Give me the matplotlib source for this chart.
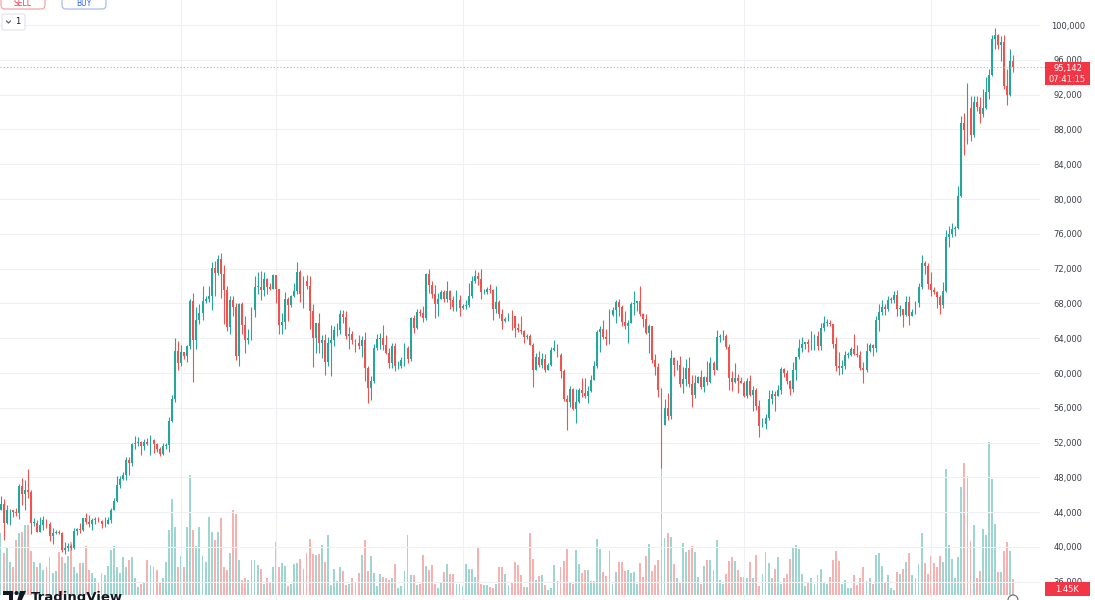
import numpy as np
import matplotlib
matplotlib.use("Agg")
import matplotlib.pyplot as plt
from matplotlib.patches import FancyBboxPatch, Rectangle, Circle, Polygon

# BTC daily candles, 1 Jan - 28 Nov 2024, prices in thousands of USD
first_open = 42.3

closes = [
    44.2, 45.0, 42.8, 44.2, 44.2, 44.0, 43.9, 47.0, 46.1, 46.6, 46.3, 42.8, 42.8, 41.7, 42.5, 43.1, 42.7, 41.3, 41.6, 41.7, 41.6, 39.6, 39.9, 40.1, 39.9, 41.8, 42.1, 42.0, 43.3, 42.9, 42.6,
    43.1, 43.2, 43.0, 42.6, 42.7, 43.1, 44.3, 45.3, 47.1, 47.8, 48.3, 50.0, 49.7, 51.8, 51.9, 52.1, 51.6, 52.1, 51.8, 52.3, 51.8, 51.3, 50.7, 51.6, 51.7, 54.5, 57.0, 62.5, 61.1,
    62.4, 62.0, 63.1, 68.3, 63.8, 66.1, 66.9, 68.3, 68.5, 68.9, 72.1, 71.5, 73.1, 71.4, 69.5, 65.3, 68.4, 67.6, 61.9, 67.9, 65.5, 63.8, 64.0, 67.2, 69.9, 69.9, 69.5, 70.8, 69.9, 69.6, 71.3,
    69.7, 65.5, 65.9, 68.5, 67.8, 68.9, 69.4, 71.6, 69.1, 70.6, 70.0, 67.1, 64.0, 65.7, 63.4, 63.8, 61.3, 63.5, 63.8, 64.9, 64.9, 66.8, 66.4, 64.3, 64.5, 63.8, 63.4, 63.1, 63.8, 60.6,
    58.3, 59.1, 62.9, 63.9, 64.0, 63.2, 62.3, 61.2, 63.1, 60.8, 60.8, 61.5, 62.9, 61.6, 66.3, 65.2, 67.0, 66.9, 66.3, 71.4, 70.1, 69.1, 67.9, 68.5, 69.3, 68.5, 69.4, 68.4, 67.6, 68.4, 67.5,
    67.7, 67.8, 68.8, 70.6, 71.1, 70.8, 69.3, 69.3, 69.6, 69.5, 67.3, 68.2, 66.8, 66.0, 66.2, 66.6, 66.5, 65.2, 64.9, 64.8, 64.1, 64.2, 63.2, 60.3, 61.8, 60.9, 61.6, 60.3, 60.9, 62.7,
    62.9, 62.1, 60.2, 57.0, 56.7, 58.2, 55.9, 56.7, 58.0, 57.7, 57.3, 57.9, 59.2, 60.8, 64.7, 65.1, 64.1, 63.9, 66.7, 67.2, 68.2, 67.6, 65.9, 65.4, 65.8, 67.9, 68.0, 68.3, 66.8, 66.2, 64.6,
    65.4, 61.5, 60.7, 58.1, 54.0, 56.0, 55.1, 61.7, 60.9, 60.9, 58.7, 59.3, 60.6, 58.7, 57.5, 58.9, 59.5, 58.4, 59.5, 59.0, 61.2, 60.4, 64.1, 64.2, 64.3, 63.0, 59.4, 59.0, 59.4, 59.1, 58.9,
    57.3, 59.1, 57.5, 58.0, 56.2, 53.9, 54.1, 54.8, 57.0, 57.6, 57.3, 58.1, 60.5, 60.0, 59.1, 58.2, 60.3, 61.8, 62.9, 63.3, 63.6, 63.3, 63.3, 64.2, 63.1, 65.2, 65.8, 65.8, 65.6, 63.3,
    60.8, 60.6, 60.8, 62.1, 62.1, 62.8, 62.2, 62.1, 60.6, 60.3, 62.5, 63.2, 62.9, 66.1, 67.0, 67.6, 67.4, 68.4, 68.4, 69.0, 67.4, 67.4, 66.7, 68.2, 66.6, 67.0, 68.0, 69.9, 72.7, 72.3, 70.2,
    69.5, 69.3, 68.7, 67.8, 69.4, 75.6, 76.0, 76.5, 76.7, 80.4, 88.7, 87.9, 90.5, 87.4, 91.1, 90.6, 89.8, 90.5, 92.3, 94.3, 98.4, 98.9, 97.7, 98.0, 93.0, 91.9, 95.9, 95.142,
]

highs = [
    44.2, 45.9, 45.5, 44.8, 44.4, 44.3, 44.5, 47.2, 47.9, 47.7, 49.0, 46.5, 43.3, 43.1, 43.4, 43.6, 43.2, 42.9, 42.2, 41.9, 41.9, 41.7, 40.6, 40.5, 40.3, 42.2, 42.2, 42.8, 43.3, 43.9, 43.7,
    43.3, 43.5, 43.4, 43.1, 43.5, 43.4, 44.5, 45.6, 48.2, 48.2, 48.6, 50.3, 50.4, 52.0, 52.8, 52.6, 52.2, 52.4, 52.5, 52.9, 52.4, 52.0, 51.5, 51.9, 51.9, 54.9, 57.5, 64.0, 63.7,
    63.2, 62.4, 63.2, 68.5, 69.2, 67.6, 67.9, 70.0, 68.8, 70.0, 72.8, 72.9, 73.6, 73.8, 72.4, 70.0, 68.9, 68.9, 68.1, 68.1, 68.2, 66.6, 65.1, 67.6, 71.2, 71.6, 71.7, 71.6, 70.9, 70.3, 71.4,
    71.3, 69.7, 66.9, 69.3, 68.7, 69.0, 70.3, 72.8, 71.8, 71.2, 71.3, 71.2, 67.9, 65.8, 66.9, 64.4, 64.5, 64.1, 65.5, 65.4, 65.7, 67.2, 67.2, 67.1, 65.3, 64.8, 63.9, 64.4, 64.2, 64.7,
    60.8, 59.6, 63.3, 64.5, 64.6, 65.5, 64.4, 62.9, 63.4, 63.5, 61.4, 61.8, 63.4, 63.1, 66.4, 66.7, 67.4, 67.4, 67.7, 71.5, 71.9, 70.6, 70.1, 69.2, 69.5, 69.5, 70.6, 69.5, 68.9, 69.5, 69.0,
    67.9, 68.4, 70.3, 71.1, 71.8, 71.6, 71.9, 69.6, 69.9, 70.2, 69.6, 70.0, 68.4, 67.3, 66.4, 66.9, 67.2, 66.6, 65.7, 66.5, 65.0, 64.5, 64.5, 63.4, 62.3, 62.5, 62.3, 62.2, 61.2, 63.0,
    63.8, 63.3, 62.3, 60.5, 57.5, 58.5, 58.3, 58.2, 58.3, 59.4, 59.4, 58.5, 59.8, 61.4, 64.9, 65.4, 66.1, 65.1, 67.4, 67.6, 68.4, 68.5, 67.8, 67.1, 66.1, 68.2, 69.4, 68.3, 70.0, 66.9, 66.8,
    65.6, 65.0, 62.2, 61.1, 58.3, 57.0, 57.7, 62.7, 61.8, 61.5, 61.9, 60.7, 61.6, 61.8, 59.8, 59.8, 59.6, 60.3, 59.6, 61.4, 61.8, 61.4, 64.9, 64.5, 65.0, 64.5, 63.3, 60.2, 61.2, 59.9, 59.5,
    59.1, 59.4, 59.8, 58.5, 58.3, 56.9, 54.8, 55.3, 58.1, 58.0, 57.9, 58.6, 60.7, 60.6, 60.4, 59.2, 61.3, 61.8, 63.9, 64.1, 63.6, 63.9, 64.8, 64.5, 64.8, 65.8, 66.5, 66.2, 66.1, 65.6,
    64.1, 62.4, 61.5, 62.5, 62.4, 63.0, 64.5, 63.2, 62.5, 61.3, 63.4, 63.5, 63.3, 66.5, 67.9, 68.4, 67.9, 68.9, 68.7, 69.4, 69.5, 67.8, 67.4, 68.8, 68.8, 67.4, 68.3, 70.3, 73.6, 72.9, 72.7,
    71.6, 69.9, 69.4, 69.0, 70.5, 76.4, 76.9, 77.2, 76.9, 81.5, 89.5, 89.9, 93.3, 91.8, 91.8, 91.8, 91.7, 92.6, 94.0, 94.9, 98.9, 99.6, 99.0, 98.7, 98.9, 94.9, 97.2, 96.6,
]

lows = [
    42.2, 44.2, 40.8, 42.6, 42.5, 43.4, 43.6, 43.2, 44.8, 44.3, 45.6, 41.5, 42.4, 41.7, 41.7, 42.0, 42.2, 40.7, 40.3, 41.5, 41.5, 39.4, 39.2, 39.5, 39.6, 39.8, 41.4, 41.6, 41.8, 42.7, 42.3,
    41.9, 42.6, 42.9, 42.2, 42.3, 42.6, 42.8, 44.3, 45.2, 46.8, 47.7, 47.7, 48.3, 49.3, 51.3, 51.6, 50.6, 51.2, 51.7, 50.6, 50.8, 50.9, 50.5, 50.6, 51.3, 50.9, 54.4, 56.7, 60.4,
    60.8, 61.6, 61.3, 62.8, 59.0, 62.8, 65.6, 66.1, 68.0, 68.2, 67.2, 68.8, 71.3, 68.6, 65.6, 64.8, 64.5, 66.6, 61.5, 60.8, 64.5, 62.3, 63.3, 63.8, 66.4, 69.1, 68.4, 68.9, 69.1, 69.5, 69.6,
    68.1, 64.5, 64.5, 65.1, 66.0, 67.6, 68.7, 69.1, 68.2, 67.5, 69.6, 65.1, 60.7, 62.3, 62.3, 61.7, 59.8, 60.8, 59.6, 63.1, 64.3, 64.5, 65.8, 63.9, 62.8, 63.3, 62.4, 62.8, 61.8, 59.1,
    56.6, 56.9, 58.8, 62.6, 62.8, 62.7, 62.2, 60.6, 60.6, 60.2, 60.5, 60.6, 60.8, 61.1, 61.4, 64.6, 65.1, 66.6, 65.9, 66.1, 69.2, 68.6, 66.3, 66.6, 68.5, 68.2, 68.2, 67.3, 67.1, 67.1, 66.6,
    67.4, 67.3, 67.6, 68.6, 70.4, 70.1, 68.5, 69.1, 69.1, 69.2, 66.1, 66.9, 66.3, 65.1, 65.9, 66.0, 65.0, 64.1, 64.7, 64.5, 63.4, 63.9, 63.2, 58.4, 60.3, 60.7, 60.6, 60.1, 60.4, 60.8,
    62.5, 61.8, 59.4, 56.8, 53.5, 56.1, 55.8, 54.3, 56.6, 57.2, 57.1, 56.5, 57.8, 59.2, 60.6, 62.4, 63.9, 63.2, 63.3, 66.6, 65.8, 66.6, 65.4, 65.1, 63.5, 65.7, 66.7, 67.1, 66.5, 65.3, 64.5,
    62.3, 61.2, 59.8, 57.2, 49.1, 54.0, 54.6, 54.7, 59.6, 60.3, 58.4, 57.7, 58.5, 58.4, 56.1, 57.1, 58.8, 58.2, 57.8, 58.6, 58.8, 59.8, 60.3, 63.6, 63.8, 62.8, 58.1, 57.9, 58.8, 57.7, 58.8,
    57.2, 57.1, 57.4, 55.6, 55.7, 52.6, 53.8, 53.6, 54.6, 56.4, 55.6, 57.3, 57.6, 59.5, 58.7, 57.5, 57.8, 59.2, 61.6, 62.4, 62.8, 62.4, 62.7, 62.7, 62.7, 62.7, 64.8, 65.4, 65.4, 62.9,
    60.2, 59.8, 59.9, 60.5, 61.7, 62.0, 62.1, 61.8, 60.3, 58.9, 60.1, 62.4, 62.0, 62.4, 64.8, 66.7, 66.7, 67.1, 68.0, 68.1, 66.6, 66.6, 65.3, 66.5, 65.5, 66.5, 66.8, 67.6, 69.7, 71.4, 69.7,
    68.8, 69.1, 67.5, 66.8, 67.5, 69.3, 74.5, 75.6, 75.8, 76.5, 80.2, 85.1, 86.3, 86.7, 87.1, 90.1, 88.7, 89.4, 90.4, 91.5, 94.1, 97.2, 97.2, 95.9, 92.6, 90.8, 91.8, 94.6,
]

# volume, thousands of BTC
volumes = [
    5.6, 5.6, 3.8, 4.3, 3.0, 2.5, 5.0, 5.6, 5.7, 6.3, 6.3, 4.0, 3.0, 2.5, 2.9, 2.3, 2.5, 3.4, 2.0, 2.2, 3.9, 3.4, 2.9, 3.5, 4.8, 2.5, 2.0, 2.9, 2.9, 4.4, 2.3,
    2.0, 1.5, 1.2, 2.0, 1.8, 2.6, 4.1, 4.4, 2.5, 2.0, 3.4, 2.5, 3.2, 3.4, 1.5, 0.7, 1.0, 1.1, 3.2, 2.7, 2.5, 2.3, 1.2, 1.5, 3.0, 5.9, 8.7, 6.2, 2.5,
    3.5, 2.5, 6.2, 10.9, 5.9, 4.4, 6.2, 3.5, 3.0, 7.1, 5.7, 5.0, 5.7, 7.0, 2.5, 2.3, 3.8, 7.7, 7.3, 3.2, 1.4, 1.5, 1.4, 3.2, 3.2, 2.7, 2.4, 1.0, 1.5, 1.2, 2.5,
    4.8, 2.5, 2.9, 2.6, 0.8, 1.0, 2.8, 2.9, 3.3, 2.4, 3.8, 5.1, 3.7, 3.6, 3.7, 4.5, 3.0, 5.4, 0.9, 2.4, 1.3, 2.5, 2.2, 0.9, 1.0, 1.5, 1.2, 2.0, 3.6, 5.0,
    2.2, 3.5, 2.0, 0.8, 1.9, 1.6, 1.5, 1.4, 1.5, 2.8, 0.6, 0.8, 2.2, 5.4, 1.8, 1.8, 0.9, 1.0, 3.6, 2.6, 2.3, 2.7, 1.0, 0.6, 1.1, 2.1, 2.8, 1.9, 1.9, 1.0, 1.0,
    0.8, 2.8, 2.4, 2.4, 1.6, 4.3, 1.0, 0.9, 0.9, 0.7, 0.6, 1.0, 2.5, 2.5, 1.9, 0.9, 1.1, 3.0, 2.7, 1.8, 0.7, 0.7, 5.6, 3.3, 1.4, 1.7, 1.8, 0.9, 0.5, 0.6,
    2.7, 1.3, 2.5, 3.1, 4.2, 1.1, 1.0, 4.1, 2.8, 2.0, 2.3, 2.3, 1.3, 1.3, 5.1, 4.2, 2.1, 1.7, 4.0, 1.0, 2.1, 3.0, 3.0, 2.2, 2.3, 2.0, 2.1, 1.0, 2.9, 1.6, 3.5,
    4.6, 2.2, 2.7, 3.2, 12.7, 5.2, 5.6, 5.3, 2.8, 1.5, 1.1, 4.7, 3.9, 4.1, 4.4, 3.9, 1.6, 1.0, 2.6, 3.2, 3.2, 2.3, 5.0, 1.4, 1.0, 1.9, 3.1, 3.4, 3.1, 2.3, 1.6,
    1.6, 1.5, 3.0, 1.5, 3.6, 0.8, 1.9, 3.9, 2.9, 1.5, 2.4, 3.4, 1.0, 1.5, 1.9, 3.3, 4.3, 4.5, 4.2, 1.9, 0.8, 1.1, 1.5, 1.0, 1.8, 2.4, 1.2, 1.0, 1.6, 3.2,
    4.0, 3.1, 1.0, 1.4, 0.6, 0.6, 1.8, 0.9, 1.5, 2.5, 1.3, 1.5, 1.0, 3.6, 3.8, 2.6, 1.2, 1.8, 0.6, 0.5, 2.1, 1.9, 2.4, 3.0, 3.8, 1.8, 1.5, 2.8, 5.6, 2.9, 1.9,
    3.5, 2.9, 2.5, 3.5, 3.0, 11.4, 4.5, 3.3, 1.5, 3.4, 9.8, 12.0, 10.8, 4.9, 6.3, 1.5, 2.2, 6.0, 5.4, 13.9, 10.5, 6.4, 2.1, 2.1, 4.0, 4.8, 4.0, 1.45,
]

price_ticks = [36, 40, 44, 48, 52, 56, 60, 64, 68, 72, 76, 80, 84, 88, 92, 96, 100]
grid_days = [60, 91, 152, 244, 305]   # 1 Mar, 1 Apr, 1 Jun, 1 Sep, 1 Nov
last_price_text = "95,142"
countdown_text = "07:41:15"
last_volume_text = "1.45K"

assert len(closes) == len(highs) == len(lows) == len(volumes)

UP = "#26a69a"
DOWN = "#ef5350"
W, H = 1095, 600

c = np.array(closes)
o = np.array([first_open] + closes[:-1])
hi = np.array(highs)
lo = np.array(lows)
idx = np.arange(len(c))
up = c >= o
colors = np.where(up, UP, DOWN)

fig = plt.figure(figsize=(W / 100, H / 100), dpi=100)
fig.patch.set_facecolor("white")
rect = [0, 0, 1040 / W, 1]
vax = fig.add_axes(rect)
ax = fig.add_axes(rect)
ax.patch.set_visible(False)

xlim = (0.82, 340.7)

# volume underlay
vcols = [(0.149, 0.651, 0.604, 0.45) if u else (0.937, 0.325, 0.314, 0.45) for u in up]
vax.bar(idx, volumes, width=0.62, color=vcols, linewidth=0)
vax.set_xlim(*xlim)
vax.set_ylim(-0.45, 53.9)
vax.set_xticks([])
vax.set_yticks([])
for s in vax.spines.values():
    s.set_visible(False)

# candles
ax.vlines(idx, lo, hi, colors=colors, linewidth=0.8)
body = np.maximum(np.abs(c - o), 0.06)
ax.bar(idx, body, bottom=np.minimum(o, c), width=0.62, color=colors, linewidth=0)

ax.set_xlim(*xlim)
ax.set_ylim(33.908, 102.874)
ax.set_yticks(price_ticks)
ax.set_yticklabels([f"{int(t * 1000):,}" for t in price_ticks])
ax.yaxis.tick_right()
ax.tick_params(axis="y", length=0, pad=20, labelsize=6, labelcolor="#3a3e4a")
for lbl in ax.get_yticklabels():
    lbl.set_horizontalalignment("center")
ax.set_xticks(grid_days)
ax.tick_params(axis="x", length=0, labelbottom=False)
ax.grid(True, color="#eef0f4", linewidth=0.8)
ax.set_axisbelow(True)
for s in ax.spines.values():
    s.set_visible(False)

ax.axhline(c[-1], color="#d8a2a8", linewidth=0.8, linestyle=(0, (1, 2)))

# overlay in pixel coordinates for the TradingView furniture
ui = fig.add_axes([0, 0, 1, 1], zorder=5)
ui.set_xlim(0, W)
ui.set_ylim(H, 0)
ui.axis("off")
ui.patch.set_alpha(0)

ui.add_patch(Rectangle((1045, 62), 45, 23, facecolor="#f23645", edgecolor="none"))
ui.text(1067.5, 68, last_price_text, color="white", fontsize=6, ha="center", va="center")
ui.text(1067.5, 79, countdown_text, color="white", fontsize=6, ha="center", va="center")
ui.plot([1040, 1045], [67.3, 67.3], color="#d8a2a8", linewidth=0.8, linestyle=(0, (1, 2)))

ui.add_patch(Rectangle((1045, 582), 45, 14, facecolor="#f23645", edgecolor="none"))
ui.text(1067.5, 589, last_volume_text, color="white", fontsize=6, ha="center", va="center")

ui.add_patch(FancyBboxPatch((1, -8), 44, 17, boxstyle="round,pad=0,rounding_size=4",
                            facecolor="white", edgecolor="#f5a3a9", linewidth=0.9))
ui.text(23, 3.5, "SELL", color="#f23645", fontsize=5.5, ha="center", va="center")
ui.add_patch(FancyBboxPatch((62, -8), 44, 17, boxstyle="round,pad=0,rounding_size=4",
                            facecolor="white", edgecolor="#a9bdf0", linewidth=0.9))
ui.text(84, 3.5, "BUY", color="#2962ff", fontsize=5.5, ha="center", va="center")
ui.add_patch(FancyBboxPatch((2, 14), 23, 16, boxstyle="round,pad=0,rounding_size=2",
                            facecolor="white", edgecolor="#e0e3eb", linewidth=0.8))
ui.plot([6.5, 8.5, 10.5], [21, 23, 21], color="#555", linewidth=0.8)
ui.text(17.5, 22, "1", color="#131722", fontsize=6, ha="center", va="center")

# TradingView logo, cut by the bottom edge
ui.add_patch(Rectangle((3, 591), 10, 4, facecolor="#131722", edgecolor="none"))
ui.add_patch(Rectangle((9, 591), 4, 10, facecolor="#131722", edgecolor="none"))
ui.add_patch(Circle((16.5, 593), 2, facecolor="#131722", edgecolor="none"))
ui.add_patch(Polygon([(20, 591), (26, 591), (21.5, 601), (17, 601)], facecolor="#131722", edgecolor="none"))
ui.text(31, 591, "TradingView", color="#131722", fontsize=9.5, fontweight="bold", ha="left", va="top")

ui.add_patch(Circle((1013, 600), 5, facecolor="none", edgecolor="#666", linewidth=0.8))

fig.savefig("out.png", dpi=100)
